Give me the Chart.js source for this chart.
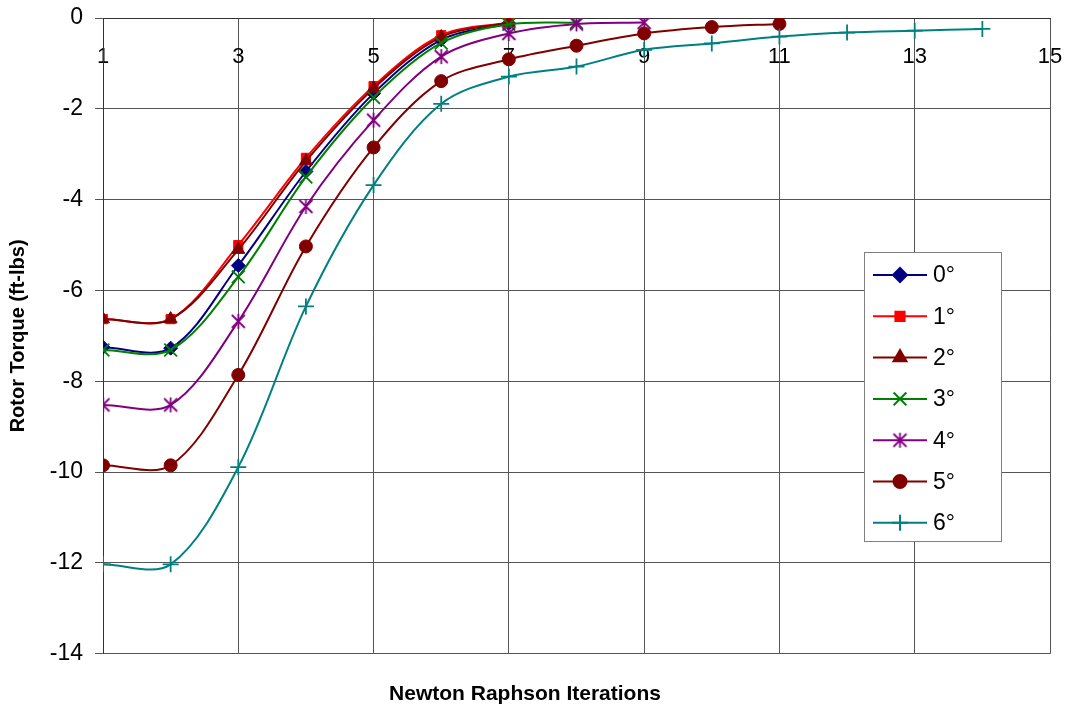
<!DOCTYPE html>
<html>
<head>
<meta charset="utf-8">
<script src="https://cdn.jsdelivr.net/npm/chart.js@4.4.1/dist/chart.umd.min.js"></script>
<style>
html, body { margin: 0; padding: 0; background: #fff; }
</style>
</head>
<body>
<canvas id="myChart" width="1069" height="714"></canvas>
<script>
// iterations on the x axis
const iterations = [1, 2, 3, 4, 5, 6, 7, 8, 9, 10, 11, 12, 13, 14];
const xTicks = [1, 3, 5, 7, 9, 11, 13, 15];
const yTicks = [0, -2, -4, -6, -8, -10, -12, -14];

// rotor torque (ft-lbs) per angle
const labels = ['0°', '1°', '2°', '3°', '4°', '5°', '6°'];
const torque0 = [-7.25, -7.27, -5.45, -3.38, -1.66, -0.48, -0.12];
const torque1 = [-6.63, -6.63, -5.0, -3.08, -1.5, -0.38, -0.1];
const torque2 = [-6.63, -6.63, -5.1, -3.15, -1.55, -0.42, -0.1];
const torque3 = [-7.31, -7.31, -5.7, -3.5, -1.75, -0.55, -0.14, -0.1];
const torque4 = [-8.52, -8.52, -6.68, -4.15, -2.25, -0.85, -0.34, -0.13, -0.1];
const torque5 = [-9.85, -9.85, -7.86, -5.03, -2.85, -1.39, -0.91, -0.61, -0.34, -0.2, -0.13];
const torque6 = [-12.03, -12.03, -9.89, -6.35, -3.68, -1.89, -1.29, -1.07, -0.7, -0.56, -0.41, -0.32, -0.28, -0.24];

const allSeries = [torque0, torque1, torque2, torque3, torque4, torque5, torque6];
const colors = ['#000080', '#FF0000', '#800000', '#008000', '#800080', '#800000', '#008080'];

// excel style asterisk marker: X plus a vertical stroke
function makeAsterisk(color) {
    const c = document.createElement('canvas');
    c.width = 17;
    c.height = 17;
    const g = c.getContext('2d');
    g.strokeStyle = color;
    g.lineWidth = 1.8;
    g.beginPath();
    g.moveTo(2, 2); g.lineTo(15, 15);
    g.moveTo(15, 2); g.lineTo(2, 15);
    g.moveTo(8.5, 1); g.lineTo(8.5, 16);
    g.stroke();
    return c;
}

const markers = [
    { style: 'rectRot', radius: 7, width: 1 },
    { style: 'rect', radius: 6.5, width: 1 },
    { style: 'triangle', radius: 7.5, width: 1 },
    { style: 'crossRot', radius: 9, width: 1.8 },
    { style: makeAsterisk(colors[4]), radius: 8, width: 1 },
    { style: 'circle', radius: 6.5, width: 1 },
    { style: 'cross', radius: 8, width: 1.8 }
];

function toPoints(values) {
    let pts = [];
    for (let i = 0; i < values.length; i++) {
        pts.push({ x: iterations[i], y: values[i] });
    }
    return pts;
}

let datasets = [];
for (let i = 0; i < allSeries.length; i++) {
    datasets.push({
        label: labels[i],
        data: toPoints(allSeries[i]),
        borderColor: colors[i],
        backgroundColor: colors[i],
        pointBorderColor: colors[i],
        pointBackgroundColor: colors[i],
        borderWidth: 2,
        tension: 0.33,
        pointStyle: markers[i].style,
        pointRadius: markers[i].radius,
        pointBorderWidth: markers[i].width,
        order: allSeries.length - i
    });
}

// legend box drawn inside the plot, line + marker like excel
const legendBox = {
    id: 'legendBox',
    afterDraw(chart) {
        const ctx = chart.ctx;
        const left = 864, top = 252, w = 137, h = 289;
        ctx.save();
        ctx.fillStyle = '#fff';
        ctx.fillRect(left, top, w, h);
        ctx.strokeStyle = '#808080';
        ctx.lineWidth = 1;
        ctx.strokeRect(left + 0.5, top + 0.5, w, h);
        for (let i = 0; i < datasets.length; i++) {
            const ds = datasets[i];
            const y = top + 23 + i * 41.3;
            ctx.strokeStyle = ds.borderColor;
            ctx.lineWidth = 2;
            ctx.beginPath();
            ctx.moveTo(873, y);
            ctx.lineTo(927, y);
            ctx.stroke();
            ctx.fillStyle = ds.borderColor;
            Chart.helpers.drawPoint(ctx, {
                pointStyle: ds.pointStyle,
                radius: ds.pointRadius,
                borderWidth: ds.pointBorderWidth,
                rotation: 0
            }, 900, y);
            ctx.fillStyle = '#000';
            ctx.font = '23px "Liberation Sans", Arial, sans-serif';
            ctx.textBaseline = 'middle';
            ctx.textAlign = 'left';
            ctx.fillText(ds.label, 933, y + 1);
        }
        ctx.restore();
    }
};

// drop the label overhang so the plot edges follow the layout padding
function noOverhang(scale) {
    scale.paddingTop = 0;
    scale.paddingBottom = 0;
    scale.paddingLeft = 0;
    scale.paddingRight = 0;
}

const ctx = document.getElementById('myChart').getContext('2d');
const myChart = new Chart(ctx, {
    type: 'line',
    data: { datasets: datasets },
    plugins: [legendBox],
    options: {
        responsive: false,
        animation: false,
        layout: { padding: { top: 18, right: 19, left: 0, bottom: 0 } },
        plugins: {
            legend: { display: false },
            tooltip: { enabled: false },
            title: {
                display: true,
                position: 'bottom',
                text: 'Newton Raphson Iterations',
                color: '#000',
                font: { family: '"Liberation Sans", Arial, sans-serif', size: 21, weight: 'bold' },
                padding: { top: 28, bottom: 7 }
            }
        },
        scales: {
            x: {
                type: 'linear',
                position: { y: 0 },
                min: 1,
                max: 15,
                afterBuildTicks: function(scale) {
                    scale.ticks = xTicks.map(v => ({ value: v }));
                },
                afterFit: noOverhang,
                grid: { color: '#555', drawTicks: false },
                border: { color: '#333' },
                ticks: {
                    color: '#000',
                    padding: 26,
                    font: { family: '"Liberation Sans", Arial, sans-serif', size: 22 }
                }
            },
            y: {
                type: 'linear',
                min: -14,
                max: 0,
                afterBuildTicks: function(scale) {
                    scale.ticks = yTicks.map(v => ({ value: v }));
                },
                afterFit: function(scale) {
                    scale.width = 103;
                    noOverhang(scale);
                },
                grid: { color: '#555', tickLength: 8 },
                border: { color: '#333' },
                ticks: {
                    color: '#000',
                    padding: 12,
                    font: { family: '"Liberation Sans", Arial, sans-serif', size: 23 }
                },
                title: {
                    display: true,
                    text: 'Rotor Torque (ft-lbs)',
                    color: '#000',
                    padding: { top: 6, bottom: 0 },
                    font: { family: '"Liberation Sans", Arial, sans-serif', size: 20, weight: 'bold' }
                }
            }
        }
    }
});
</script>
</body>
</html>
